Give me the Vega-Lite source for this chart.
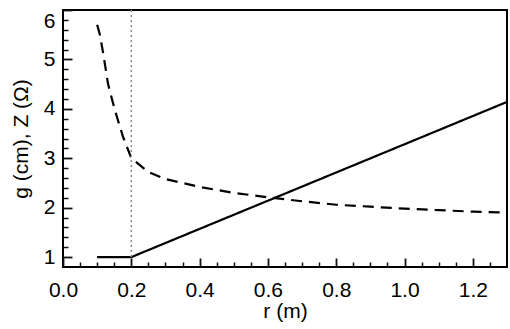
{
  "$schema": "https://vega.github.io/schema/vega-lite/v6.json",
  "width": 444,
  "height": 257,
  "autosize": {"type": "none"},
  "padding": {"left": 63, "top": 10, "right": 3, "bottom": 62},
  "config": {
    "font": "Liberation Sans",
    "view": {"stroke": "black", "strokeWidth": 2},
    "axis": {"grid": false, "domain": false, "labelColor": "black", "titleColor": "black", "labelFont": "Liberation Sans", "titleFont": "Liberation Sans", "titleFontWeight": "normal", "labelFontSize": 21, "titleFontSize": 21}
  },
  "datasets": {
    "curves": [
      {"series": "Z-vac", "r": 0.1, "value": 5.7},
      {"series": "Z-vac", "r": 0.108, "value": 5.5},
      {"series": "Z-vac", "r": 0.117, "value": 5.15},
      {"series": "Z-vac", "r": 0.132, "value": 4.5},
      {"series": "Z-vac", "r": 0.152, "value": 3.97},
      {"series": "Z-vac", "r": 0.176, "value": 3.43},
      {"series": "Z-vac", "r": 0.2, "value": 3.0},
      {"series": "Z-vac", "r": 0.25, "value": 2.72},
      {"series": "Z-vac", "r": 0.3, "value": 2.58},
      {"series": "Z-vac", "r": 0.4, "value": 2.42},
      {"series": "Z-vac", "r": 0.5, "value": 2.3},
      {"series": "Z-vac", "r": 0.6, "value": 2.21},
      {"series": "Z-vac", "r": 0.7, "value": 2.13},
      {"series": "Z-vac", "r": 0.8, "value": 2.06},
      {"series": "Z-vac", "r": 0.9, "value": 2.02},
      {"series": "Z-vac", "r": 1.0, "value": 1.98},
      {"series": "Z-vac", "r": 1.1, "value": 1.95},
      {"series": "Z-vac", "r": 1.2, "value": 1.92},
      {"series": "Z-vac", "r": 1.3, "value": 1.9},
      {"series": "gap", "r": 0.1, "value": 1.0},
      {"series": "gap", "r": 0.2, "value": 1.0},
      {"series": "gap", "r": 1.3, "value": 4.14}
    ],
    "marker": [{"r": 0.2, "lo": 1.0, "hi": 6.0}]
  },
  "resolve": {"axis": {"x": "independent", "y": "independent"}},
  "layer": [
    {
      "data": {"name": "curves"},
      "mark": {"type": "line", "strokeWidth": 2.2, "color": "black"},
      "encoding": {
        "x": {"field": "r", "type": "quantitative", "scale": {"domain": [0, 1.3], "nice": false, "zero": false},
              "axis": {"orient": "bottom", "values": [0, 0.2, 0.4, 0.6, 0.8, 1.0, 1.2], "format": ".1f", "ticks": false, "labelPadding": 12, "title": "r (m)", "titlePadding": 0, "labelFlush": false}},
        "y": {"field": "value", "type": "quantitative", "scale": {"domain": [0.8, 6], "nice": false, "zero": false},
              "axis": {"orient": "left", "values": [1, 2, 3, 4, 5, 6], "ticks": false, "labelPadding": 8, "title": "g (cm), Z (Ω)", "titlePadding": 12, "labelFlush": true}},
        "strokeDash": {"field": "series", "type": "nominal",
          "scale": {"domain": ["Z-vac", "gap"], "range": [[11, 7], [1, 0]]},
          "legend": null
        }
      }
    },
    {
      "data": {"name": "marker"},
      "mark": {"type": "rule", "color": "#888888", "strokeWidth": 1.5, "strokeDash": [2, 3]},
      "encoding": {
        "x": {"field": "r", "type": "quantitative", "axis": {"orient": "bottom", "values": [0, 0.2, 0.4, 0.6, 0.8, 1.0, 1.2], "labels": false, "tickSize": -9, "tickColor": "#111111", "tickOpacity": 1, "tickWidth": 1.8, "title": null}},
        "y": {"field": "lo", "type": "quantitative", "axis": {"orient": "left", "values": [1, 2, 3, 4, 5, 6], "labels": false, "tickSize": -9, "tickColor": "#111111", "tickOpacity": 1, "tickWidth": 1.8, "title": null}},
        "y2": {"field": "hi"}
      }
    },
    {
      "data": {"name": "marker"},
      "mark": {"type": "point", "opacity": 0},
      "encoding": {
        "x": {"field": "r", "type": "quantitative", "axis": {"orient": "bottom", "values": [0.05, 0.1, 0.15, 0.25, 0.3, 0.35, 0.45, 0.5, 0.55, 0.65, 0.7, 0.75, 0.85, 0.9, 0.95, 1.05, 1.1, 1.15, 1.25], "labels": false, "tickSize": -5, "tickColor": "#111111", "tickOpacity": 1, "tickWidth": 1.5, "title": null}},
        "y": {"field": "lo", "type": "quantitative", "axis": {"orient": "left", "values": [1.2, 1.4, 1.6, 1.8, 2.2, 2.4, 2.6, 2.8, 3.2, 3.4, 3.6, 3.8, 4.2, 4.4, 4.6, 4.8, 5.2, 5.4, 5.6, 5.8], "labels": false, "tickSize": -5, "tickColor": "#111111", "tickOpacity": 1, "tickWidth": 1.5, "title": null}}
      }
    }
  ]
}
